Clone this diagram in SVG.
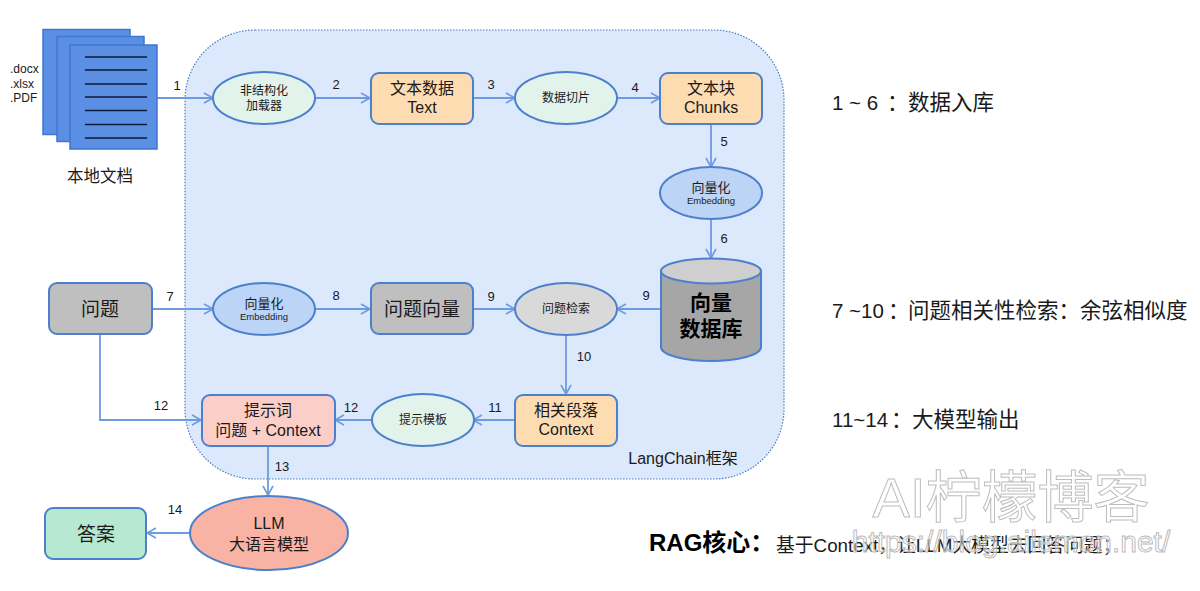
<svg xmlns="http://www.w3.org/2000/svg" width="1200" height="591" viewBox="0 0 1200 591">
<style>
text{font-family:"Liberation Sans","Noto Sans CJK SC",sans-serif;fill:#1a1a1a;text-anchor:middle}
.n{stroke:#4d80cc;stroke-width:2}
.c{fill:none;stroke:#6d9be0;stroke-width:1.8;marker-end:url(#a)}
.l{font-size:13px}
.m{font-size:16px}
.s{font-size:12px}
.e{font-size:13px}
.x{font-size:9.500px}
.b{font-size:19px}
.h{font-size:20.500px;text-anchor:start}
.h tspan{font-size:21.500px}
.d{fill:#5b8fe3;stroke:#3f77cf;stroke-width:1.5}
.t{stroke:#0c1a3a;stroke-width:1.5}
.f{font-size:12px;text-anchor:start}
.w{fill:#fff;fill-opacity:.45;stroke:#bdbdbd;stroke-width:1}
</style>
<defs><marker id="a" markerUnits="userSpaceOnUse" markerWidth="12" markerHeight="14" refX="10" refY="6" orient="auto"><path d="M1 1L10 6L1 11" fill="none" stroke="#6d9be0" stroke-width="1.6"/></marker></defs>
<rect width="1200" height="591" fill="#fff"/>
<rect id="langchain" x="185" y="30" width="599" height="449" rx="70" fill="#dce8fb" stroke="#4a7ebb" stroke-width="1.2" stroke-dasharray="1.5 1.5"/>
<text x="683" y="464" style="font-size:16px">LangChain框架</text>
<g id="connectors">
<path class="c" d="M157 98H213"/><path class="c" d="M315 98H370"/><path class="c" d="M473 98H515"/><path class="c" d="M617 98H660"/>
<path class="c" d="M711 125V167"/><path class="c" d="M711 218V258"/>
<path class="c" d="M152 309H213"/><path class="c" d="M315 309H370"/><path class="c" d="M473 309H515"/><path class="c" d="M661 309H617"/>
<path class="c" d="M566 335V394"/><path class="c" d="M515 420H473"/><path class="c" d="M372 420H335"/>
<path class="c" d="M100 335V420H201"/><path class="c" d="M268 446V495"/><path class="c" d="M189 533H147"/>
</g>
<g id="edge-labels" class="l">
<text x="177" y="90">1</text><text x="336" y="89">2</text><text x="491" y="89">3</text><text x="635" y="92">4</text><text x="724" y="146">5</text><text x="724" y="243">6</text>
<text x="170" y="301">7</text><text x="336" y="300">8</text><text x="491" y="301">9</text><text x="646" y="300">9</text><text x="584" y="361">10</text><text x="495" y="412">11</text><text x="351" y="412">12</text><text x="161" y="410">12</text><text x="282" y="471">13</text><text x="175" y="514">14</text>
</g>
<g id="docs">
<rect class="d" x="43" y="29.500" width="87" height="105"/><rect class="d" x="57" y="36.500" width="87" height="105"/><rect class="d" x="70" y="45" width="87" height="104"/>
<path class="t" d="M85 57H147M85 70H147M85 84H147M85 97H147M85 110.500H147M85 124.500H147M85 138H147"/>
<text x="10" y="73" class="f">.docx</text><text x="10" y="88" class="f">.xlsx</text><text x="10" y="102" class="f">.PDF</text>
<text x="100" y="182" style="font-size:16.500px">本地文档</text>
</g>
<g id="loader"><ellipse class="n" cx="264" cy="98" rx="51" ry="26" fill="#e2f3ec"/><text x="264" y="95" class="s">非结构化</text><text x="264" y="110" class="s">加载器</text></g>
<g id="text"><rect class="n" x="371" y="73" width="102" height="51" rx="8" fill="#fedcb2"/><text x="422" y="94" class="m">文本数据</text><text x="422" y="113" class="m">Text</text></g>
<g id="slice"><ellipse class="n" cx="566" cy="98" rx="51" ry="26" fill="#e2f3ec"/><text x="566" y="102" class="s">数据切片</text></g>
<g id="chunks"><rect class="n" x="660" y="73" width="102" height="51" rx="8" fill="#fedcb2"/><text x="711" y="94" class="m">文本块</text><text x="711" y="113" class="m">Chunks</text></g>
<g id="embed1"><ellipse class="n" cx="711" cy="193" rx="51" ry="26" fill="#bcd4f5"/><text x="711" y="192" class="e">向量化</text><text x="711" y="204" class="x">Embedding</text></g>
<g id="vectordb"><path class="n" d="M661 271V347C661 355 684 361 711 361S761 355 761 347V271" fill="#a6a6a6"/><ellipse class="n" cx="711" cy="271" rx="50" ry="12.500" fill="#cfcfcf"/><text x="711" y="310" style="font-size:21px;font-weight:700;fill:#000">向量</text><text x="711" y="336" style="font-size:21px;font-weight:700;fill:#000">数据库</text></g>
<g id="question"><rect class="n" x="49" y="283" width="103" height="51" rx="8" fill="#bfbfbf"/><text x="100" y="316" class="b">问题</text></g>
<g id="embed2"><ellipse class="n" cx="264" cy="309" rx="51" ry="26" fill="#bcd4f5"/><text x="264" y="308" class="e">向量化</text><text x="264" y="320" class="x">Embedding</text></g>
<g id="qvector"><rect class="n" x="371" y="283" width="102" height="51" rx="8" fill="#bfbfbf"/><text x="422" y="316" class="b">问题向量</text></g>
<g id="retrieve"><ellipse class="n" cx="566" cy="309" rx="51" ry="26" fill="#d9d9d9"/><text x="566" y="313" class="s">问题检索</text></g>
<g id="context"><rect class="n" x="515" y="395" width="102" height="51" rx="8" fill="#fedcb2"/><text x="566" y="416" class="m">相关段落</text><text x="566" y="435" class="m">Context</text></g>
<g id="template"><ellipse class="n" cx="423" cy="420" rx="51" ry="26" fill="#e2f3ec"/><text x="423" y="424" class="s">提示模板</text></g>
<g id="prompt"><rect class="n" x="202" y="395" width="133" height="51" rx="8" fill="#fbcfc8"/><text x="268" y="416" class="m">提示词</text><text x="268" y="436" class="m">问题 + Context</text></g>
<g id="llm"><ellipse class="n" cx="269" cy="533" rx="79" ry="37" fill="#f8b3a4"/><text x="269" y="529" class="m">LLM</text><text x="269" y="550" class="m">大语言模型</text></g>
<g id="answer"><rect class="n" x="45" y="508" width="101" height="51" rx="8" fill="#b7e8d2"/><text x="96" y="541" class="b">答案</text></g>
<g id="notes">
<text x="832" y="110" class="h">1 ~ 6 <tspan x="887">：</tspan><tspan x="908">数据入库</tspan></text>
<text x="832" y="318" class="h">7 ~10<tspan x="888">：</tspan><tspan x="908">问题相关性检索：余弦相似度</tspan></text>
<text x="832" y="427" class="h">11~14<tspan x="891">：</tspan><tspan x="912">大模型输出</tspan></text>
<text x="649" y="551" style="font-size:24px;font-weight:700;text-anchor:start;fill:#000">RAG核心：</text>
<text x="776" y="552" style="font-size:18.800px;text-anchor:start">基于Context，让LLM大模型去回答问题；</text>
</g>
<g id="watermark"><text x="1011" y="517" class="w" style="font-size:56px">AI柠檬博客</text><text x="1011" y="552" class="w" style="font-size:30px">https://blog.ailemon.net/</text></g>
</svg>
